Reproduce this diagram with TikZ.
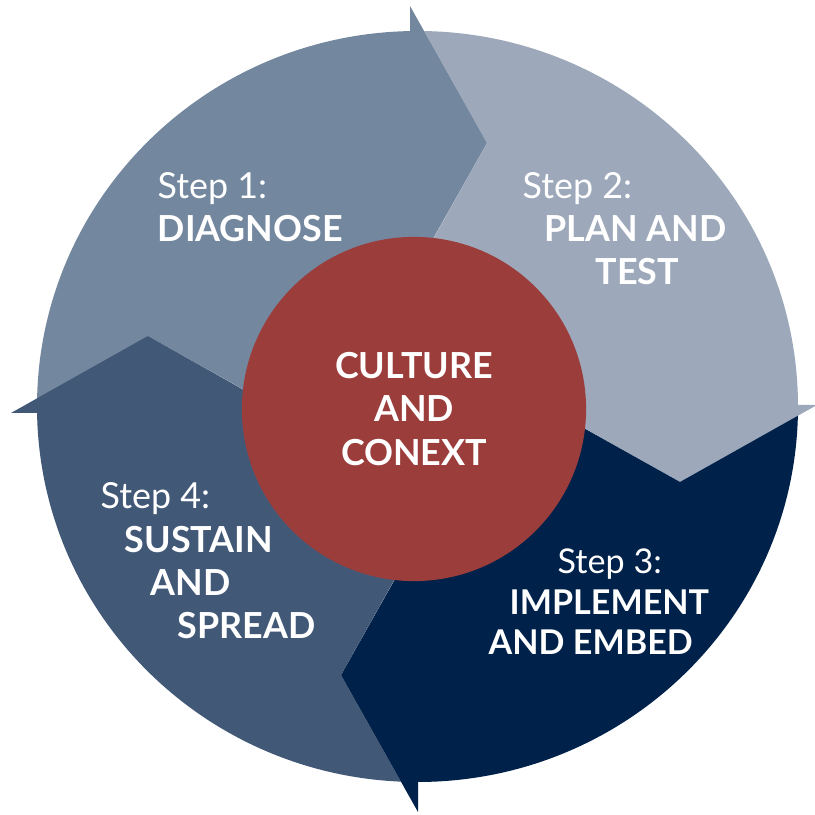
\documentclass[tikz,border=0pt]{standalone}
\usepackage{fontspec}
\setmainfont{Lato}
\definecolor{sone}{HTML}{73879F}
\definecolor{stwo}{HTML}{9DA9BB}
\definecolor{sthree}{HTML}{002149}
\definecolor{sfour}{HTML}{425877}
\definecolor{core}{HTML}{9B3E3B}
\begin{document}
\begin{tikzpicture}[x=0.01cm,y=0.01cm,
  lbl/.style={text=white, font=\fontsize{10.2pt}{12.3pt}\selectfont, inner sep=0pt, anchor=base west},
  blbl/.style={lbl, font=\fontsize{10.2pt}{12.3pt}\selectfont\bfseries},
  slbl/.style={lbl, font=\fontsize{9.7pt}{12.3pt}\selectfont},
  sblbl/.style={lbl, font=\fontsize{9.7pt}{12.3pt}\selectfont\bfseries}]
\useasboundingbox (0,0) rectangle (814,815);
\begin{scope}[shift={(414,406)}]
  \foreach \ang/\clr in {0/sone,-90/stwo,-180/sthree,-270/sfour}{
    \begin{scope}
      \clip (3.5,2.5) ellipse [x radius=380.5, y radius=375.5];
      \fill[\clr, rotate=\ang] (-91,-25) -- (-266,73) -- (-814,-235) -- (-814,814) -- (-235,814) -- (-4,403) -- (73,266) -- cycle;
    \end{scope}
    \fill[\clr, rotate=\ang] (-4,350) -- (-4,403) -- (73,266) -- cycle;
  }
\end{scope}
\node[circle, fill=core, minimum size=3.44cm, inner sep=0pt, align=center, text=white,
      font=\fontsize{10.2pt}{12.3pt}\selectfont\bfseries] (core) at (414,406) {CULTURE\\AND\\CONEXT};
\node[lbl]  (s1a) at (157,616) {Step 1:};
\node[blbl] (s1b) at (157,573) {DIAGNOSE};
\node[lbl]  (s2a) at (522,616) {Step 2:};
\node[blbl] (s2b) at (544,573) {PLAN AND};
\node[blbl] (s2c) at (595,530) {TEST};
\node[slbl]  (s3a) at (557,241) {Step 3:};
\node[sblbl] (s3b) at (509,200) {IMPLEMENT};
\node[sblbl] (s3c) at (488,160) {AND EMBED};
\node[lbl]  (s4a) at (100,306) {Step 4:};
\node[blbl] (s4b) at (124,262) {SUSTAIN};
\node[blbl] (s4c) at (150,219) {AND};
\node[blbl] (s4d) at (177,176) {SPREAD};
\end{tikzpicture}
\end{document}
